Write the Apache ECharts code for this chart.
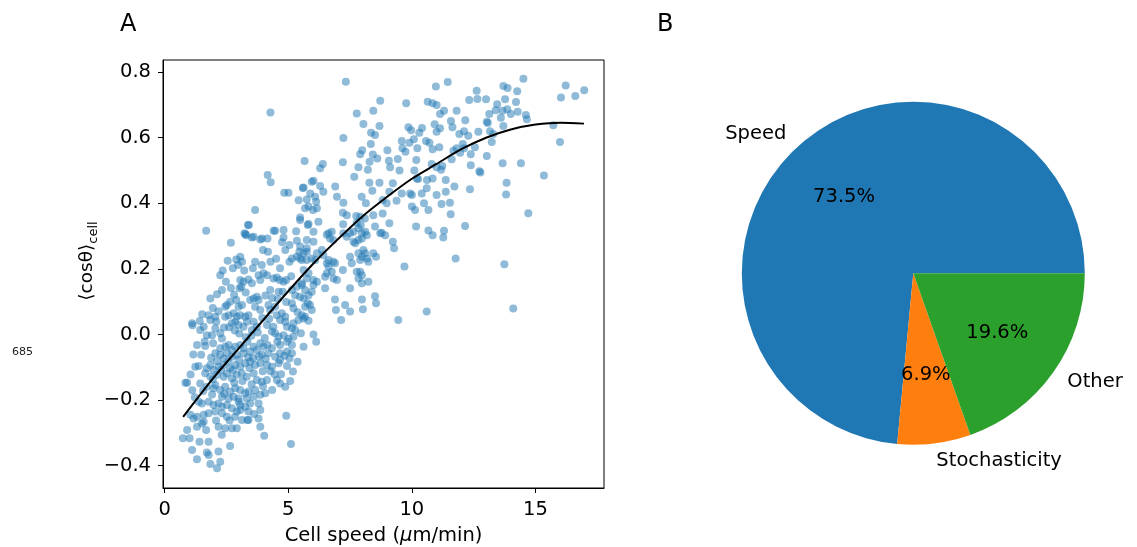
<!DOCTYPE html>
<html>
<head>
<meta charset="utf-8">
<script src="https://cdn.jsdelivr.net/npm/echarts@6/dist/echarts.min.js"></script>
<style>
  html, body { margin: 0; padding: 0; background: #fff; }
  #chart { width: 1137px; height: 547px; }
</style>
</head>
<body>
<div id="chart"></div>
<script>
// Panel A: per-cell persistence <cos θ> against cell speed (μm/min)
const cells = [
  [4.28,0.677],[5.66,0.529],[4.17,0.486],[4.29,0.464],[4.84,0.432],[5.01,0.432],[5.59,0.447],[5.42,0.409],[5.89,0.43],[5.95,0.466],
  [7.33,0.771],[10.97,0.756],[11.45,0.77],[8.72,0.713],[9.77,0.705],[10.64,0.71],[10.84,0.705],[11.0,0.70],[7.77,0.674],[8.44,0.682],
  [11.3,0.682],[11.14,0.672],[11.81,0.682],[8.04,0.642],[8.69,0.636],[8.35,0.615],[8.51,0.608],[9.86,0.632],[9.97,0.623],[10.3,0.615],
  [10.41,0.63],[10.92,0.641],[11.0,0.618],[11.14,0.629],[11.58,0.651],[11.64,0.632],[7.23,0.599],[8.34,0.581],[9.59,0.59],[9.9,0.585],
  [10.08,0.595],[10.57,0.59],[10.71,0.585],[10.84,0.565],[11.11,0.571],[7.99,0.562],[7.91,0.55],[8.42,0.549],[8.6,0.537],[9.01,0.562],
  [9.62,0.568],[9.74,0.557],[10.22,0.568],[6.4,0.52],[6.29,0.507],[7.21,0.525],[8.29,0.527],[9.07,0.53],[9.43,0.535],[10.18,0.532],
  [10.8,0.52],[11.0,0.51],[11.23,0.514],[11.18,0.502],[7.84,0.51],[8.22,0.502],[9.12,0.51],[9.5,0.5],[10.1,0.5],[7.67,0.481],
  [8.69,0.463],[8.28,0.463],[9.23,0.461],[10.2,0.476],[10.25,0.474],[10.61,0.471],[10.84,0.476],[11.37,0.471],[11.72,0.451],[5.62,0.448],
  [6.02,0.469],[6.29,0.453],[6.42,0.435],[6.9,0.451],[6.09,0.42],[6.13,0.405],[6.97,0.42],[7.97,0.42],[8.4,0.438],[9.09,0.435],
  [9.59,0.43],[9.93,0.43],[10.0,0.425],[10.4,0.43],[10.6,0.446],[11.0,0.425],[11.37,0.435],[7.23,0.402],[8.14,0.4],[8.82,0.41],
  [8.98,0.4],[10.49,0.4],[11.2,0.398],[5.75,0.412],
  [14.51,0.78],[16.22,0.759],[16.97,0.745],[16.03,0.723],[16.61,0.727],[13.7,0.758],[13.87,0.752],[12.62,0.743],[14.26,0.742],[12.32,0.715],
  [12.65,0.718],[13.0,0.717],[13.77,0.717],[14.21,0.709],[13.45,0.702],[13.13,0.672],[13.03,0.649],[13.07,0.645],[13.39,0.684],[13.67,0.682],
  [13.86,0.687],[14.0,0.672],[14.28,0.679],[14.61,0.669],[14.65,0.656],[13.6,0.661],[13.7,0.636],[12.16,0.653],[15.72,0.638],[12.69,0.618],
  [13.16,0.62],[13.29,0.611],[11.92,0.611],[12.11,0.62],[12.28,0.606],[13.23,0.587],[15.99,0.587],[12.06,0.581],[11.81,0.568],[11.68,0.56],
  [11.95,0.554],[12.11,0.568],[12.55,0.571],[12.38,0.55],[13.03,0.544],[11.61,0.534],[12.38,0.516],[13.67,0.522],[14.41,0.522],[12.73,0.498],
  [12.77,0.494],[15.34,0.485],[13.83,0.463],[12.35,0.443],[13.81,0.427],
  [3.66,0.38],[5.82,0.39],[5.48,0.357],[5.79,0.334],[1.68,0.316],[3.37,0.334],[3.23,0.309],[3.3,0.303],[3.53,0.296],[3.87,0.29],
  [4.16,0.293],[4.47,0.316],[4.81,0.296],[5.32,0.315],[5.35,0.286],[5.05,0.273],[4.88,0.258],[5.45,0.252],[5.75,0.263],[3.98,0.258],
  [2.68,0.28],[2.9,0.229],[3.06,0.237],[3.13,0.222],[2.76,0.202],[2.97,0.212],[3.66,0.222],[3.57,0.202],[4.67,0.202],[5.05,0.222],
  [5.15,0.232],[5.35,0.237],[5.55,0.227],[2.25,0.181],[3.06,0.166],[3.19,0.161],[3.1,0.146],[3.03,0.141],[3.39,0.168],[3.53,0.156],
  [3.8,0.181],[4.0,0.187],[4.14,0.181],[3.87,0.166],[4.4,0.171],[4.54,0.174],[4.65,0.166],[4.81,0.161],[4.92,0.166],[4.27,0.136],
  [4.61,0.13],[4.78,0.13],[5.15,0.136],[5.28,0.12],[5.48,0.115],[5.82,0.12],[5.35,0.146],[5.55,0.151],[1.85,0.11],[2.12,0.123],
  [2.32,0.136],[2.45,0.085],[2.52,0.09],[2.65,0.1],[2.9,0.105],[2.99,0.085],[3.13,0.09],[3.46,0.105],[3.6,0.11],[3.73,0.115],
  [3.8,0.105],[3.66,0.085],[3.87,0.075],[4.2,0.09],[4.27,0.075],[4.47,0.085],[4.54,0.059],[4.74,0.065],[4.88,0.054],[5.15,0.095],
  [5.21,0.08],[5.79,0.095],[1.11,0.034],[1.13,0.028],[1.44,0.014],[1.58,0.024],[1.78,0.059],[2.05,0.054],[1.85,0.044],[2.09,0.039],
  [1.71,-0.002],[1.92,-0.002],[2.25,0.004],[2.32,-0.012],[2.45,0.054],[2.59,0.059],[2.79,0.065],[2.92,0.054],[3.06,0.059],[2.86,0.039],
  [2.72,0.034],[2.99,0.029],[3.26,0.054],[3.39,0.059],[3.33,0.039],[3.19,0.024],[3.6,0.039],[3.73,0.024],[3.53,0.014],[4.14,0.029],
  [4.4,0.024],[4.34,0.009],[4.47,0.004],[4.67,0.044],[4.88,0.039],[4.95,0.024],[5.15,0.019],[5.28,0.014],[5.21,0.034],[5.41,0.044],
  [5.62,0.049],[4.61,-0.007],[4.81,-0.002],[5.01,-0.012],[5.21,-0.007],
  [9.38,0.408],[11.54,0.402],[6.0,0.38],[6.16,0.385],[5.68,0.385],[10.0,0.39],[10.13,0.38],[10.67,0.38],[11.57,0.367],[7.21,0.371],
  [7.37,0.364],[7.22,0.336],[7.75,0.361],[7.91,0.359],[8.1,0.354],[7.77,0.341],[7.93,0.334],[8.44,0.364],[8.82,0.369],[9.09,0.339],
  [6.22,0.344],[6.02,0.313],[6.63,0.309],[6.76,0.313],[6.69,0.293],[6.82,0.288],[7.23,0.309],[7.37,0.298],[7.5,0.309],[7.64,0.313],
  [7.84,0.324],[7.98,0.309],[8.11,0.313],[8.18,0.303],[8.51,0.329],[8.72,0.309],[8.78,0.31],[8.92,0.303],[10.17,0.329],[10.67,0.317],
  [10.84,0.303],[11.3,0.316],[11.27,0.296],[5.75,0.288],[5.48,0.268],[6.02,0.283],[6.36,0.258],[6.16,0.248],[6.09,0.227],[7.64,0.283],
  [7.71,0.278],[7.84,0.288],[7.98,0.293],[9.23,0.283],[9.28,0.263],[5.75,0.252],[5.62,0.248],[5.48,0.232],[5.75,0.227],[5.95,0.232],
  [6.42,0.242],[6.56,0.217],[6.63,0.227],[6.82,0.222],[6.89,0.217],[7.5,0.237],[7.57,0.217],[7.84,0.248],[7.98,0.237],[7.91,0.227],
  [8.04,0.258],[8.11,0.248],[8.18,0.232],[8.24,0.222],[8.44,0.248],[8.55,0.237],[7.21,0.197],[7.77,0.191],[7.91,0.191],[7.98,0.181],
  [7.84,0.171],[7.98,0.156],[8.24,0.161],[9.7,0.207],[11.77,0.232],[5.62,0.197],[5.82,0.187],[5.75,0.171],[5.55,0.156],[6.02,0.166],
  [6.16,0.161],[6.02,0.151],[6.49,0.176],[6.56,0.187],[6.63,0.207],[6.76,0.191],[6.97,0.166],[6.83,0.171],[6.49,0.141],[5.68,0.136],
  [5.95,0.13],[7.5,0.141],[6.89,0.107],[6.93,0.075],[7.3,0.09],[7.5,0.07],[7.98,0.107],[8.02,0.077],[8.51,0.117],[8.55,0.095],
  [5.62,0.11],[5.68,0.085],[5.88,0.09],[5.95,0.075],[5.55,0.059],[5.68,0.054],[5.82,0.042],[7.14,0.044],[9.45,0.044],[10.6,0.07],
  [6.02,0.0],[6.13,-0.022],
  [14.71,0.37],[12.15,0.331],[13.74,0.214],[14.1,0.079],
  [1.31,-0.032],[1.64,-0.035],[1.96,-0.027],[2.25,-0.042],[2.45,-0.037],[2.59,-0.032],[2.72,-0.047],[2.86,-0.037],[3.06,-0.032],[3.19,-0.042],
  [3.35,-0.022],[3.6,-0.037],[3.87,-0.027],[4.0,-0.037],[4.16,-0.032],[4.34,-0.042],[4.56,-0.022],[4.67,-0.032],[4.95,-0.022],[5.15,-0.032],
  [5.62,-0.037],[2.05,-0.057],[2.25,-0.062],[2.52,-0.057],[2.72,-0.068],[2.39,-0.073],[2.92,-0.062],[3.19,-0.057],[3.46,-0.052],[3.73,-0.047],
  [3.93,-0.062],[4.2,-0.057],[4.47,-0.068],[4.67,-0.057],[4.95,-0.052],[5.15,-0.057],[1.24,-0.098],[1.38,-0.096],[0.84,-0.147],[0.91,-0.147],
  [1.71,-0.103],[1.85,-0.093],[1.98,-0.108],[2.18,-0.098],[2.38,-0.093],[2.65,-0.103],[2.86,-0.093],[3.06,-0.098],[3.26,-0.088],[3.46,-0.083],
  [3.66,-0.093],[3.87,-0.088],[4.14,-0.093],[4.34,-0.098],[4.61,-0.088],[4.95,-0.096],[5.19,-0.113],[1.64,-0.118],[1.85,-0.129],[2.12,-0.123],
  [2.39,-0.129],[2.52,-0.118],[2.72,-0.133],[2.92,-0.123],[3.12,-0.118],[3.32,-0.129],[3.6,-0.118],[3.73,-0.139],[3.93,-0.144],[4.14,-0.139],
  [4.54,-0.139],[4.67,-0.149],[4.88,-0.159],[1.44,-0.149],[1.71,-0.159],[2.05,-0.154],[2.25,-0.169],[2.45,-0.159],[2.65,-0.174],[2.86,-0.164],
  [3.06,-0.169],[3.26,-0.179],[3.39,-0.174],[3.66,-0.169],[3.87,-0.184],[4.07,-0.179],[1.38,-0.205],[1.51,-0.21],[1.78,-0.205],[1.98,-0.215],
  [2.18,-0.21],[2.32,-0.22],[2.52,-0.215],[2.72,-0.225],[2.99,-0.205],[3.06,-0.23],[3.26,-0.22],[3.46,-0.21],[3.8,-0.21],[3.87,-0.23],
  [3.39,-0.235],[1.04,-0.245],[1.17,-0.256],[1.31,-0.251],[1.58,-0.245],[1.78,-0.24],[2.05,-0.235],[2.32,-0.24],[2.52,-0.251],[2.92,-0.235],
  [1.31,-0.281],[1.51,-0.271],[1.58,-0.266],[2.18,-0.281],[2.45,-0.286],[2.72,-0.286],[2.92,-0.286],[3.13,-0.261],[3.39,-0.261],[3.8,-0.256],
  [0.91,-0.291],[0.74,-0.316],[1.01,-0.316],[3.87,-0.281],[4.03,-0.309],[4.92,-0.248],[5.11,-0.334],[1.41,-0.327],[1.78,-0.327],[2.18,-0.357],
  [2.65,-0.34],[1.11,-0.352],[1.31,-0.38],[1.71,-0.36],[1.78,-0.367],[1.85,-0.395],[2.25,-0.388],[2.12,-0.408],[1.98,-0.164],[2.32,-0.19],
  [2.59,-0.195],[2.79,-0.19],[2.99,-0.195],[3.32,-0.195],[3.6,-0.19],[3.06,-0.215],[3.35,-0.261],[4.67,-0.078],[5.05,-0.073],
  [3.41,0.334],[3.27,0.306],[3.6,0.298],[3.94,0.293],[4.41,0.316],[4.81,0.319],[5.48,0.349],[5.82,0.337],[6.56,0.304],
  [1.52,0.062],[1.95,0.081],[2.18,0.071],[2.61,0.022],[2.84,0.012],[3.02,0.003],[3.28,-0.008],[3.51,-0.004],[3.77,0.006],[4.05,-0.011],
  [4.23,0.048],[3.95,0.051],[2.4,0.021],[2.05,0.018],[1.62,-0.021],[1.48,-0.062],[1.88,-0.071],[2.12,-0.081],[2.57,-0.082],[3.01,-0.076],
  [3.38,-0.069],[3.58,-0.072],[3.82,-0.067],[4.09,-0.074],[4.28,-0.112],[4.45,-0.121],[3.97,-0.112],[3.43,-0.102],[2.76,-0.109],[2.28,-0.108],
  [1.95,-0.137],[1.56,-0.172],[1.92,-0.183],[2.41,-0.181],[2.82,-0.147],[3.15,-0.142],[3.52,-0.152],[3.98,-0.158],[4.35,-0.169],[4.71,-0.121],
  [5.08,-0.142],[2.08,-0.262],[2.63,-0.262],[2.85,-0.251],[3.62,-0.242],[1.68,-0.291],[2.31,-0.306],[1.22,-0.191],[1.12,-0.17],[1.05,-0.122],
  [1.16,-0.061],[1.42,0.041],[2.68,0.142],[2.48,0.161],[2.81,0.121],[3.28,0.128],[4.08,0.119],[4.35,0.111],[4.92,0.099],[4.58,0.108],
  [3.93,0.212],[4.28,0.222],[4.51,0.231],[4.18,0.252],[4.75,0.281],[5.12,0.178],[5.38,0.068],[5.51,0.004],[4.85,-0.065],[5.38,-0.083],
  [3.22,0.195],[2.55,0.225],[2.35,0.195]
];

// Fitted trend through the cloud
const fitSpeed = [0.75, 2, 3, 4, 5, 6, 7, 8, 9, 10, 11, 12, 13, 14, 15, 16, 16.96];
const fitCos   = [-0.251, -0.130, -0.042, 0.045, 0.132, 0.215, 0.29, 0.36, 0.42, 0.475, 0.52, 0.565, 0.60, 0.625, 0.64, 0.646, 0.643];

const xTicks = [0, 5, 10, 15];
const yTicks = [-0.4, -0.2, 0, 0.2, 0.4, 0.6, 0.8];
const cellCount = '685';

// Panel B: share of variance attributed to each source
const shareNames = ['Speed', 'Stochasticity', 'Other'];
const shareValues = [73.5, 6.9, 19.6];
const shareColors = ['#1f77b4', '#ff7f0e', '#2ca02c'];

const FONT = 'DejaVu Sans';
const FS = 19.5;
const pieCenter = [913.3, 273.3];
const pieRadius = 171.5;

const total = shareValues.reduce((a, b) => a + b, 0);
function midAngle(i) {
  let before = 0;
  for (let k = 0; k < i; k++) before += shareValues[k];
  return (before + shareValues[i] / 2) / total * 2 * Math.PI;
}
function pieLabelAt(scale, centred) {
  return function (p) {
    const a = midAngle(p.dataIndex);
    const c = Math.cos(a), s = Math.sin(a);
    return {
      x: pieCenter[0] + scale * pieRadius * c,
      y: pieCenter[1] - scale * pieRadius * s,
      align: centred ? 'center' : (c < 0 ? 'right' : 'left'),
      verticalAlign: 'middle'
    };
  };
}

const fmtY = v => (v < 0 ? '\u2212' + Math.abs(v).toFixed(1) : v.toFixed(1));

const chart = echarts.init(document.getElementById('chart'), null, { renderer: 'canvas' });
chart.setOption({
  animation: false,
  backgroundColor: '#fff',
  textStyle: { fontFamily: FONT },
  grid: {
    left: 163, right: 533, top: 60, bottom: 59,
    containLabel: false, outerBoundsMode: 'none',
    show: true, borderColor: '#000', borderWidth: 1, backgroundColor: 'transparent'
  },
  xAxis: {
    type: 'value', min: -0.065, max: 17.77,
    name: 'Cell speed ({i|\u03bc}m/min)', nameLocation: 'middle', nameGap: 38,
    nameTextStyle: {
      fontFamily: FONT, fontSize: FS, color: '#000',
      rich: { i: { fontFamily: FONT, fontSize: FS, fontStyle: 'italic', color: '#000' } }
    },
    axisLine: { show: true, onZero: false, lineStyle: { color: '#000', width: 1 } },
    axisTick: { show: true, length: 5, lineStyle: { color: '#000', width: 1 }, customValues: xTicks },
    axisLabel: { customValues: xTicks, margin: 12, fontFamily: FONT, fontSize: FS, color: '#000' },
    splitLine: { show: false }
  },
  yAxis: {
    type: 'value', min: -0.468, max: 0.837,
    axisLine: { show: true, onZero: false, lineStyle: { color: '#000', width: 1 } },
    axisTick: { show: true, length: 5, lineStyle: { color: '#000', width: 1 }, customValues: yTicks },
    axisLabel: { customValues: yTicks, formatter: fmtY, margin: 12, fontFamily: FONT, fontSize: FS, color: '#000' },
    splitLine: { show: false }
  },
  graphic: [
    { type: 'text', left: 120, top: 13, style: { text: 'A', font: '24px "DejaVu Sans"', fill: '#000' } },
    { type: 'text', left: 657, top: 13, style: { text: 'B', font: '24px "DejaVu Sans"', fill: '#000' } },
    { type: 'text', left: 12, top: 347, style: { text: cellCount, font: '11px "DejaVu Sans"', fill: '#222' } },
    {
      type: 'text', x: 87, y: 261, rotation: Math.PI / 2,
      style: {
        text: '{m|\u27e8cos\u03b8\u27e9}{s|cell}',
        align: 'center', verticalAlign: 'middle', fill: '#000',
        rich: {
          m: { fontFamily: FONT, fontSize: 18.5, lineHeight: 26, fill: '#000', verticalAlign: 'middle' },
          s: { fontFamily: FONT, fontSize: 13, lineHeight: 16, fill: '#000', verticalAlign: 'bottom' }
        }
      }
    }
  ],
  series: [
    {
      type: 'scatter', data: cells, symbolSize: 8, silent: true,
      itemStyle: { color: '#1f77b4', opacity: 0.5, borderWidth: 0 }, z: 2
    },
    {
      type: 'line', data: fitSpeed.map((x, i) => [x, fitCos[i]]),
      showSymbol: false, smooth: 0.3, silent: true,
      lineStyle: { color: '#000', width: 2 }, z: 3
    },
    {
      type: 'pie', center: pieCenter, radius: pieRadius, startAngle: 0, clockwise: false,
      avoidLabelOverlap: false, silent: true, emphasis: { disabled: true },
      data: shareNames.map((n, i) => ({ name: n, value: shareValues[i], itemStyle: { color: shareColors[i] } })),
      itemStyle: { borderWidth: 0 },
      label: { show: true, position: 'outside', formatter: '{b}', fontFamily: FONT, fontSize: FS, color: '#000' },
      labelLine: { show: false },
      labelLayout: pieLabelAt(1.1, false)
    },
    {
      type: 'pie', center: pieCenter, radius: pieRadius, startAngle: 0, clockwise: false,
      avoidLabelOverlap: false, silent: true, emphasis: { disabled: true }, percentPrecision: 1,
      data: shareNames.map((n, i) => ({ name: n, value: shareValues[i] })),
      itemStyle: { color: 'rgba(0,0,0,0)', borderWidth: 0 },
      label: { show: true, position: 'outside', formatter: '{d}%', fontFamily: FONT, fontSize: FS, color: '#000' },
      labelLine: { show: false },
      labelLayout: pieLabelAt(0.6, true)
    }
  ]
});
</script>
</body>
</html>
